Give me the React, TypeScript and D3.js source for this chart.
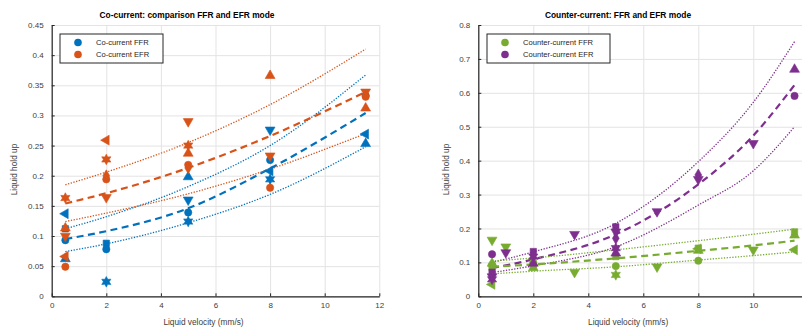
import { useRef, useEffect } from "react";
import * as d3 from "d3";

const FONT = "'Liberation Sans', Arial, Helvetica, sans-serif";
const BLUE = "#0072BD";
const ORANGE = "#D95319";
const GREEN = "#77AC30";
const PURPLE = "#7E2F8E";

// ---- Co-current panel ----
const coX = [0.5, 2, 5, 8, 11.5];
const coXTicks = [0, 2, 4, 6, 8, 10, 12];
const coYTicks = [0, 0.05, 0.1, 0.15, 0.2, 0.25, 0.3, 0.35, 0.4, 0.45];

const coFfrCircle = [0.093, 0.078, 0.139, 0.226, 0.333];
const coFfrUp = [0.062, null, 0.198, null, 0.253];
const coFfrDown = [null, null, 0.16, 0.276, null];
const coFfrLeft = [0.137, null, null, 0.208, 0.269];
const coFfrHex = [null, 0.024, 0.124, 0.194, null];
const coFfrSquare = [0.112, 0.088, null, null, null];

const coEfrCircle = [0.049, 0.194, 0.218, 0.18, 0.331];
const coEfrUp = [0.113, null, 0.237, 0.366, 0.312];
const coEfrDown = [0.1, 0.164, 0.29, 0.233, 0.339];
const coEfrLeft = [0.066, 0.259, null, null, null];
const coEfrHex = [0.163, 0.227, 0.25, null, null];
const coEfrDiamond = [null, 0.2, 0.213, null, null];

// fitted curves
const coFitX = [0.5, 2, 5, 8, 11.5];
const coFfrFit = [0.095, 0.108, 0.146, 0.212, 0.304];
const coFfrUpper = [0.112, 0.132, 0.182, 0.25, 0.367];
const coFfrLower = [0.074, 0.087, 0.122, 0.169, 0.248];
const coEfrFit = [0.154, 0.171, 0.213, 0.266, 0.339];
const coEfrUpper = [0.185, 0.206, 0.255, 0.318, 0.41];
const coEfrLower = [0.124, 0.138, 0.17, 0.211, 0.27];

// ---- Counter-current panel ----
const ccX = [0.5, 1, 2, 3.5, 5, 6.5, 8, 10, 11.5];
const ccXTicks = [0, 2, 4, 6, 8, 10, 12];
const ccYTicks = [0, 0.1, 0.2, 0.3, 0.4, 0.5, 0.6, 0.7, 0.8];

const ccFfrDown = [0.166, 0.146, null, 0.071, null, 0.087, null, 0.137, null];
const ccFfrUp = [0.097, null, 0.084, null, null, null, 0.135, null, 0.18];
const ccFfrSquare = [0.085, null, 0.092, null, 0.117, null, 0.142, null, 0.19];
const ccFfrCircle = [0.092, null, 0.1, null, 0.089, null, 0.105, null, null];
const ccFfrLeft = [0.035, null, null, null, null, null, 0.14, null, 0.137];
const ccFfrHex = [null, null, null, null, 0.063, null, null, null, null];

const ccEfrCircle = [0.124, null, null, null, null, null, null, null, 0.591];
const ccEfrDown = [0.058, 0.129, null, 0.183, 0.19, 0.25, 0.345, 0.451, null];
const ccEfrSquare = [0.071, null, 0.132, null, 0.205, null, null, null, null];
const ccEfrHex = [0.05, null, 0.117, null, 0.142, null, null, null, null];
const ccEfrUp = [null, null, 0.097, null, 0.127, null, null, null, 0.669];
const ccEfrDiamond = [null, null, null, null, 0.171, null, 0.358, null, null];

const ccFitX = [0.5, 2, 5, 8, 10, 11.5];
const ccEfrFit = [0.083, 0.109, 0.183, 0.33, 0.474, 0.623];
const ccEfrUpper = [0.1, 0.131, 0.215, 0.397, 0.572, 0.751];
const ccEfrLower = [0.07, 0.09, 0.146, 0.269, 0.37, 0.5];
const ccFfrFit = [0.087, 0.094, 0.112, 0.134, 0.15, 0.164];
const ccFfrUpper = [0.104, 0.113, 0.137, 0.164, 0.183, 0.198];
const ccFfrLower = [0.066, 0.074, 0.087, 0.107, 0.12, 0.131];

type Run = { shape: string; values: (number | null)[] };

// six-pointed star like matlab's hexagram
const symbolHexagram = {
  draw(ctx: any, size: number) {
    const r = Math.sqrt(size / 1.6);
    for (let i = 0; i < 12; i++) {
      const rr = i % 2 === 0 ? r : r * 0.55;
      const a = (i * Math.PI) / 6 - Math.PI / 2;
      const px = rr * Math.cos(a);
      const py = rr * Math.sin(a);
      if (i === 0) ctx.moveTo(px, py);
      else ctx.lineTo(px, py);
    }
    ctx.closePath();
  },
};

function markerPath(shape: string) {
  switch (shape) {
    case "circle":
      return { d: d3.symbol(d3.symbolCircle, 42)()!, rot: 0 };
    case "square":
      return { d: d3.symbol(d3.symbolSquare, 40)()!, rot: 0 };
    case "diamond":
      return { d: d3.symbol(d3.symbolDiamond, 40)()!, rot: 0 };
    case "hex":
      return { d: d3.symbol(symbolHexagram as any, 45)()!, rot: 0 };
    case "up":
      return { d: d3.symbol(d3.symbolTriangle, 42)()!, rot: 0 };
    case "down":
      return { d: d3.symbol(d3.symbolTriangle, 42)()!, rot: 180 };
    case "left":
      return { d: d3.symbol(d3.symbolTriangle, 42)()!, rot: -90 };
  }
  return { d: d3.symbol(d3.symbolCircle, 42)()!, rot: 0 };
}

interface PanelCfg {
  x0: number;
  x1: number;
  xTicks: number[];
  yTicks: number[];
  yMax: number;
  xs: number[];
  groups: { color: string; runs: Run[] }[];
  fitX: number[];
  fits: { color: string; values: number[]; dashed: boolean }[];
  title: string;
  titleX: number;
  legend: { x: number; labels: string[]; colors: string[]; w: number };
  yLabelX: number;
}

function drawPanel(svg: d3.Selection<SVGSVGElement, unknown, null, undefined>, c: PanelCfg) {
  const top = 25;
  const bottom = 296.3;
  const x = d3.scaleLinear().domain([0, 12]).range([c.x0, c.x1]);
  const y = d3.scaleLinear().domain([0, c.yMax]).range([bottom, top]);
  const fmt = (d: d3.NumberValue) => String(+(+d).toFixed(2));

  const g = svg.append("g");

  // grid
  g.append("g")
    .attr("transform", `translate(0,${bottom})`)
    .call(d3.axisBottom(x).tickValues(c.xTicks).tickSize(-(bottom - top)).tickFormat(() => ""))
    .call((s) => s.select(".domain").remove())
    .selectAll("line")
    .attr("stroke", "#e3e3e3");
  g.append("g")
    .attr("transform", `translate(${c.x0},0)`)
    .call(d3.axisLeft(y).tickValues(c.yTicks).tickSize(-(c.x1 - c.x0)).tickFormat(() => ""))
    .call((s) => s.select(".domain").remove())
    .selectAll("line")
    .attr("stroke", "#e3e3e3");

  // fitted curves
  const line = d3
    .line<number>()
    .x((_, i) => x(c.fitX[i]))
    .y((d) => y(d))
    .curve(d3.curveMonotoneX);
  c.fits.forEach((f) => {
    g.append("path")
      .datum(f.values)
      .attr("fill", "none")
      .attr("stroke", f.color)
      .attr("stroke-width", f.dashed ? 2.2 : 1.3)
      .attr("stroke-dasharray", f.dashed ? "7,4.5" : "1.3,1.5")
      .attr("d", line);
  });

  // data points
  c.groups.forEach((grp) => {
    grp.runs.forEach((run) => {
      const m = markerPath(run.shape);
      const pts = run.values
        .map((v, i) => ({ v, xv: c.xs[i] }))
        .filter((p) => p.v !== null) as { v: number; xv: number }[];
      g.append("g")
        .selectAll("path")
        .data(pts)
        .join("path")
        .attr("d", m.d)
        .attr("transform", (p) => `translate(${x(p.xv)},${y(p.v)}) rotate(${m.rot})`)
        .attr("fill", grp.color)
        .attr("stroke", grp.color)
        .attr("stroke-width", 0.6);
    });
  });

  // axes
  const xa = g
    .append("g")
    .attr("transform", `translate(0,${bottom})`)
    .call(d3.axisBottom(x).tickValues(c.xTicks).tickSizeInner(-3).tickSizeOuter(0).tickPadding(6));
  const ya = g
    .append("g")
    .attr("transform", `translate(${c.x0},0)`)
    .call(d3.axisLeft(y).tickValues(c.yTicks).tickSizeInner(-3).tickSizeOuter(0).tickPadding(8).tickFormat(fmt));
  [xa, ya].forEach((a) => {
    a.select(".domain").attr("stroke", "#262626").attr("stroke-width", 1.2);
    a.selectAll("line").attr("stroke", "#262626");
    a.selectAll("text").attr("fill", "#404040").style("font-family", FONT).style("font-size", "8px");
  });

  // title and labels
  g.append("text")
    .attr("x", c.titleX)
    .attr("y", 18)
    .attr("text-anchor", "middle")
    .style("font-family", FONT)
    .style("font-size", "8.4px")
    .style("font-weight", "bold")
    .attr("fill", "#000")
    .text(c.title);
  g.append("text")
    .attr("x", (c.x0 + Math.min(c.x1, 802)) / 2 - 12)
    .attr("y", 325)
    .attr("text-anchor", "middle")
    .style("font-family", FONT)
    .style("font-size", "8.3px")
    .attr("fill", "#404040")
    .text("Liquid velocity (mm/s)");
  g.append("text")
    .attr("transform", `translate(${c.yLabelX},169.5) rotate(-90)`)
    .attr("text-anchor", "middle")
    .style("font-family", FONT)
    .style("font-size", "8.3px")
    .attr("fill", "#404040")
    .text("Liquid hold up");

  // legend
  const lg = g.append("g").attr("transform", `translate(${c.legend.x},34)`);
  lg.append("rect")
    .attr("width", c.legend.w)
    .attr("height", 29)
    .attr("fill", "#fff")
    .attr("stroke", "#262626")
    .attr("stroke-width", 1);
  c.legend.labels.forEach((lab, i) => {
    lg.append("circle")
      .attr("cx", 18)
      .attr("cy", 8.5 + i * 12)
      .attr("r", 3.8)
      .attr("fill", c.legend.colors[i]);
    lg.append("text")
      .attr("x", 36)
      .attr("y", 11 + i * 12)
      .style("font-family", FONT)
      .style("font-size", "7.6px")
      .attr("fill", "#262626")
      .text(lab);
  });
}

export default function App() {
  const svgRef = useRef<SVGSVGElement>(null);

  useEffect(() => {
    if (!svgRef.current) return;
    const svg = d3.select(svgRef.current);
    svg.selectAll("*").remove();

    drawPanel(svg, {
      x0: 51.7,
      x1: 379.3,
      xTicks: coXTicks,
      yTicks: coYTicks,
      yMax: 0.45,
      xs: coX,
      groups: [
        {
          color: BLUE,
          runs: [
            { shape: "circle", values: coFfrCircle },
            { shape: "up", values: coFfrUp },
            { shape: "down", values: coFfrDown },
            { shape: "left", values: coFfrLeft },
            { shape: "hex", values: coFfrHex },
            { shape: "square", values: coFfrSquare },
          ],
        },
        {
          color: ORANGE,
          runs: [
            { shape: "circle", values: coEfrCircle },
            { shape: "up", values: coEfrUp },
            { shape: "down", values: coEfrDown },
            { shape: "left", values: coEfrLeft },
            { shape: "hex", values: coEfrHex },
            { shape: "diamond", values: coEfrDiamond },
          ],
        },
      ],
      fitX: coFitX,
      fits: [
        { color: BLUE, values: coFfrFit, dashed: true },
        { color: BLUE, values: coFfrUpper, dashed: false },
        { color: BLUE, values: coFfrLower, dashed: false },
        { color: ORANGE, values: coEfrFit, dashed: true },
        { color: ORANGE, values: coEfrUpper, dashed: false },
        { color: ORANGE, values: coEfrLower, dashed: false },
      ],
      title: "Co-current: comparison FFR and EFR mode",
      titleX: 187,
      legend: { x: 60, labels: ["Co-current FFR", "Co-current EFR"], colors: [BLUE, ORANGE], w: 103 },
      yLabelX: 17,
    });

    drawPanel(svg, {
      x0: 478.3,
      x1: 808.3,
      xTicks: ccXTicks,
      yTicks: ccYTicks,
      yMax: 0.8,
      xs: ccX,
      groups: [
        {
          color: GREEN,
          runs: [
            { shape: "down", values: ccFfrDown },
            { shape: "up", values: ccFfrUp },
            { shape: "square", values: ccFfrSquare },
            { shape: "circle", values: ccFfrCircle },
            { shape: "left", values: ccFfrLeft },
            { shape: "hex", values: ccFfrHex },
          ],
        },
        {
          color: PURPLE,
          runs: [
            { shape: "circle", values: ccEfrCircle },
            { shape: "down", values: ccEfrDown },
            { shape: "square", values: ccEfrSquare },
            { shape: "hex", values: ccEfrHex },
            { shape: "up", values: ccEfrUp },
            { shape: "diamond", values: ccEfrDiamond },
          ],
        },
      ],
      fitX: ccFitX,
      fits: [
        { color: PURPLE, values: ccEfrFit, dashed: true },
        { color: PURPLE, values: ccEfrUpper, dashed: false },
        { color: PURPLE, values: ccEfrLower, dashed: false },
        { color: GREEN, values: ccFfrFit, dashed: true },
        { color: GREEN, values: ccFfrUpper, dashed: false },
        { color: GREEN, values: ccFfrLower, dashed: false },
      ],
      title: "Counter-current: FFR and EFR mode",
      titleX: 618,
      legend: { x: 487, labels: ["Counter-current FFR", "Counter-current EFR"], colors: [GREEN, PURPLE], w: 123 },
      yLabelX: 449,
    });
  }, []);

  return (
    <svg
      ref={svgRef}
      width={802}
      height={332}
      style={{ position: "absolute", left: 0, top: 0, background: "#fff" }}
    />
  );
}
